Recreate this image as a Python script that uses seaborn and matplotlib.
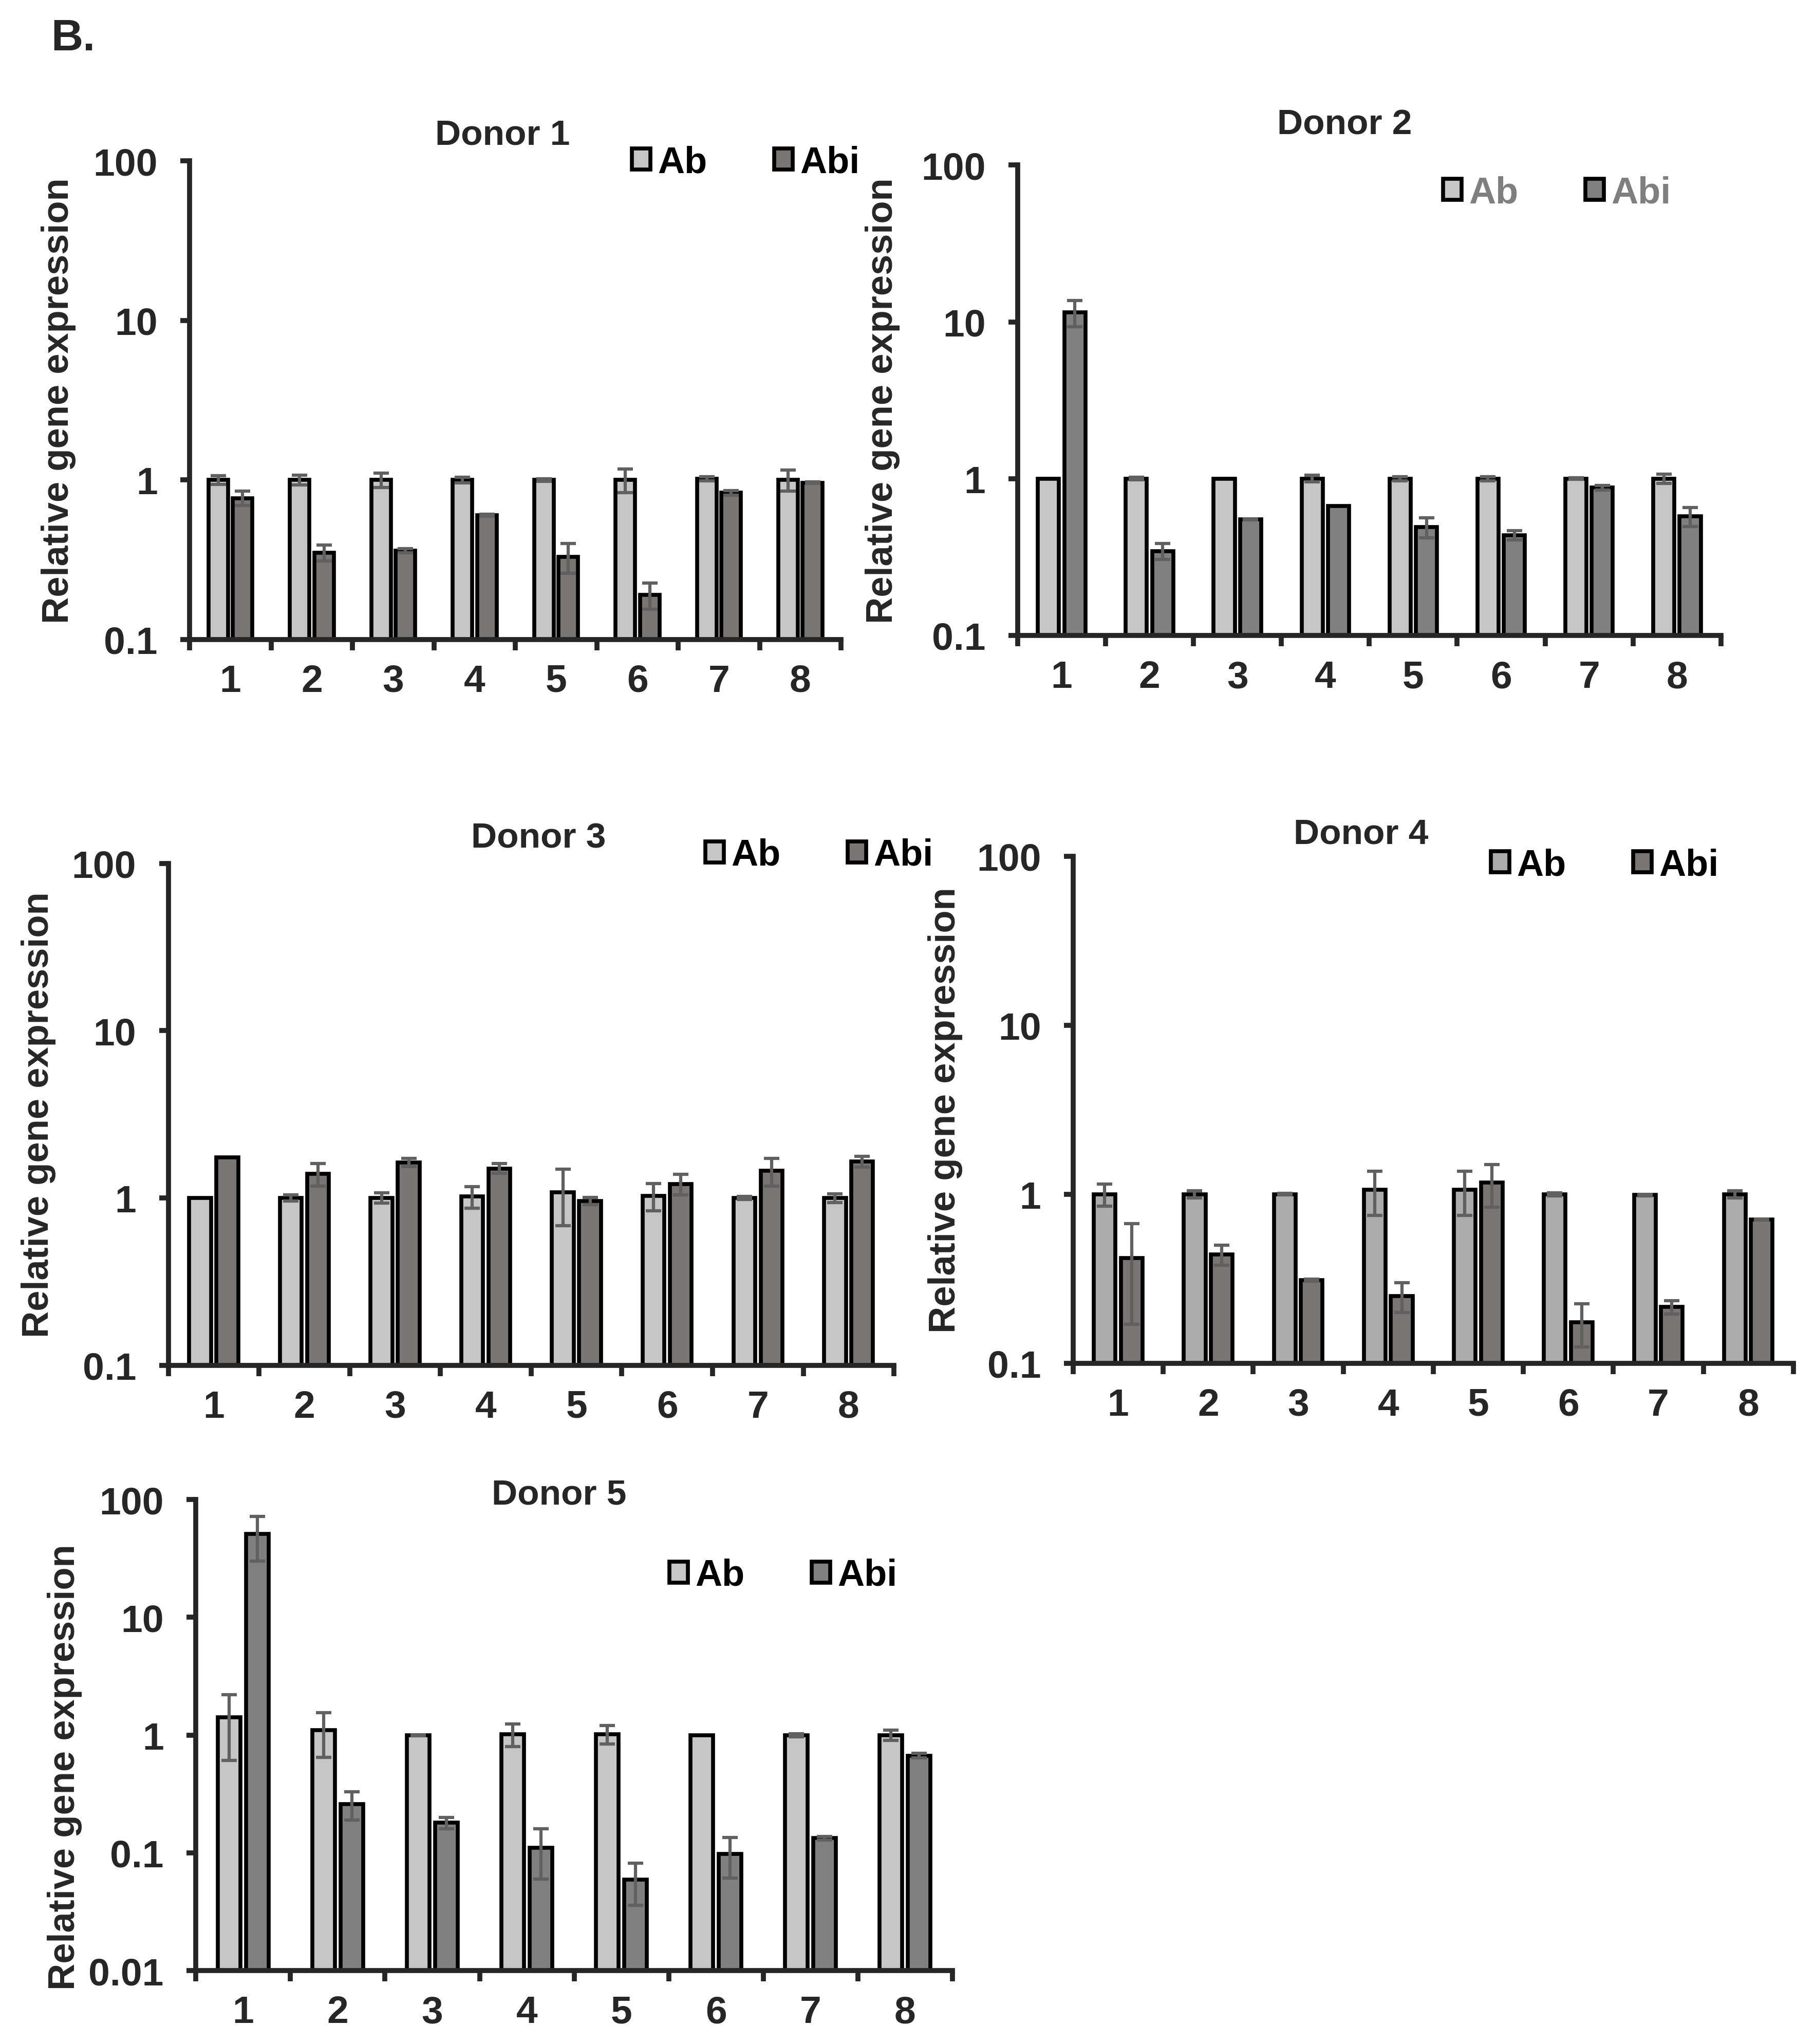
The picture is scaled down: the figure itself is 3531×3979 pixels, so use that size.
import numpy as np
import pandas as pd
import matplotlib
matplotlib.use("Agg")
import matplotlib.pyplot as plt
import seaborn as sns
from matplotlib.ticker import NullLocator

# ============================
# DATA
# ============================
genes = ["1", "2", "3", "4", "5", "6", "7", "8"]
groups = ["Ab", "Abi"]

# Donor 1
d1_ab = [1.00, 1.00, 1.00, 1.00, 1.00, 1.00, 1.02, 1.00]
d1_ab_err = [0.06, 0.07, 0.10, 0.04, 0.02, 0.17, 0.03, 0.15]
d1_abi = [0.77, 0.35, 0.36, 0.60, 0.33, 0.19, 0.83, 0.96]
d1_abi_err = [0.08, 0.04, 0.01, 0.01, 0.07, 0.035, 0.03, 0.01]

# Donor 2
d2_ab = [1.00, 1.00, 1.00, 1.00, 1.00, 1.00, 1.00, 1.00]
d2_ab_err = [0.0, 0.02, 0.0, 0.05, 0.03, 0.03, 0.01, 0.07]
d2_abi = [11.5, 0.345, 0.55, 0.67, 0.49, 0.435, 0.875, 0.575]
d2_abi_err = [2.2, 0.04, 0.005, 0.0, 0.07, 0.03, 0.03, 0.08]

# Donor 3
d3_ab = [1.00, 1.00, 1.00, 1.02, 1.08, 1.03, 1.00, 1.00]
d3_ab_err = [0.0, 0.04, 0.07, 0.15, 0.40, 0.19, 0.02, 0.06]
d3_abi = [1.75, 1.39, 1.63, 1.50, 0.96, 1.21, 1.45, 1.65]
d3_abi_err = [0.0, 0.21, 0.09, 0.10, 0.05, 0.17, 0.27, 0.12]

# Donor 4
d4_ab = [1.00, 1.00, 1.00, 1.06, 1.06, 1.00, 0.99, 1.00]
d4_ab_err = [0.15, 0.05, 0.01, 0.31, 0.31, 0.02, 0.01, 0.05]
d4_abi = [0.42, 0.44, 0.31, 0.25, 1.17, 0.175, 0.215, 0.71]
d4_abi_err = [0.25, 0.06, 0.005, 0.05, 0.33, 0.05, 0.02, 0.005]

# Donor 5
d5_ab = [1.41, 1.10, 1.00, 1.02, 1.02, 1.00, 1.00, 1.00]
d5_ab_err = [0.80, 0.45, 0.01, 0.22, 0.18, 0.0, 0.03, 0.10]
d5_abi = [51.0, 0.26, 0.18, 0.11, 0.059, 0.098, 0.133, 0.668]
d5_abi_err = [21.0, 0.07, 0.02, 0.05, 0.023, 0.037, 0.005, 0.03]

donors = [
    ("Donor 1", d1_ab, d1_ab_err, d1_abi, d1_abi_err),
    ("Donor 2", d2_ab, d2_ab_err, d2_abi, d2_abi_err),
    ("Donor 3", d3_ab, d3_ab_err, d3_abi, d3_abi_err),
    ("Donor 4", d4_ab, d4_ab_err, d4_abi, d4_abi_err),
    ("Donor 5", d5_ab, d5_ab_err, d5_abi, d5_abi_err),
]

# ============================
# LAYOUT / STYLE per panel
# ============================
panel_style = [
    dict(rect=[0.1046, 0.687, 0.359, 0.234], colors=["#c6c6c6", "#7b7474"], ymin=0.1,
         title=(0.48, 1.055), leg=(0.679, 0.997), ylab=(-0.175, 0.5), legc="black"),
    dict(rect=[0.561, 0.689, 0.3877, 0.230], colors=["#c6c6c6", "#808080"], ymin=0.1,
         title=(0.465, 1.086), leg=(0.605, 0.941), ylab=(-0.167, 0.5), legc="#7f7f7f"),
    dict(rect=[0.0928, 0.332, 0.400, 0.2455], colors=["#c6c6c6", "#7b7474"], ymin=0.1,
         title=(0.51, 1.05), leg=(0.74, 1.016), ylab=(-0.155, 0.5), legc="black"),
    dict(rect=[0.5916, 0.333, 0.397, 0.248], colors=["#ababab", "#7b7474"], ymin=0.1,
         title=(0.40, 1.044), leg=(0.58, 0.982), ylab=(-0.153, 0.5), legc="black"),
    dict(rect=[0.108, 0.0359, 0.417, 0.2304], colors=["#c6c6c6", "#808080"], ymin=0.01,
         title=(0.48, 1.011), leg=(0.626, 0.839), ylab=(-0.15, 0.433), legc="black"),
]

sns.set_style("ticks")
plt.rcParams["font.family"] = ["Liberation Sans", "DejaVu Sans"]
plt.rcParams["font.weight"] = "bold"
plt.rcParams["axes.labelweight"] = "bold"

fig = plt.figure(figsize=(35.31, 39.80), dpi=100)

for (name, ab, ab_err, abi, abi_err), st in zip(donors, panel_style):
    df = pd.DataFrame({
        "gene": genes * 2,
        "group": ["Ab"] * len(genes) + ["Abi"] * len(genes),
        "value": ab + abi,
    })
    errs = {"Ab": ab_err, "Abi": abi_err}

    ax = fig.add_axes(st["rect"])
    sns.barplot(data=df, x="gene", y="value", hue="group", order=genes,
                hue_order=groups, palette=st["colors"], width=0.6, gap=0.2,
                errorbar=None, edgecolor="black", linewidth=5.5, ax=ax)
    ax.set_yscale("log")

    # error bars on top of each bar
    xs, ys, es = [], [], []
    for grp, container in zip(groups, ax.containers):
        for bar in container:
            xc = bar.get_x() + bar.get_width() / 2
            i = int(round(xc))
            e = errs[grp][i]
            if e > 0:
                xs.append(xc)
                ys.append(bar.get_y() + bar.get_height())
                es.append(e)
    ax.errorbar(xs, ys, yerr=es, fmt="none", ecolor="#606060",
                elinewidth=4.5, capsize=11, capthick=4.5, zorder=5)

    # axes
    ax.set_ylim(st["ymin"], 100)
    yt = [10.0 ** k for k in range(int(round(np.log10(st["ymin"]))), 3)]
    ax.set_yticks(yt, labels=["%g" % v for v in yt])
    ax.yaxis.set_minor_locator(NullLocator())
    ax.set_xlim(-0.5, len(genes) - 0.5)
    ax.set_xticks(np.arange(-0.5, len(genes), 1), minor=True)
    ax.tick_params(axis="x", which="major", length=0, pad=34, labelsize=54)
    ax.tick_params(axis="x", which="minor", length=15, width=7, direction="out")
    ax.tick_params(axis="y", which="major", length=13, width=7, pad=32,
                   labelsize=54, direction="out")
    sns.despine(ax=ax)
    for side in ["left", "bottom"]:
        ax.spines[side].set_linewidth(7)
    ax.set_xlabel("")
    ax.set_ylabel("Relative gene expression", fontsize=52, fontweight="bold")
    ax.yaxis.set_label_coords(*st["ylab"])

    ax.text(st["title"][0], st["title"][1], name, transform=ax.transAxes,
            ha="center", va="center", fontsize=50, fontweight="bold")

    sns.move_legend(ax, "center left", bbox_to_anchor=st["leg"], ncol=2,
                    title=None, frameon=False, fontsize=52, handlelength=0.5,
                    handleheight=0.5, handletextpad=0.2, columnspacing=1.8,
                    borderaxespad=0, borderpad=0)
    for t in ax.get_legend().get_texts():
        t.set_color(st["legc"])
        t.set_fontweight("bold")

fig.text(0.028, 0.981, "B.", fontsize=62, fontweight="bold", va="center", ha="left")

fig.savefig("out.png", dpi=100)
plt.close(fig)
